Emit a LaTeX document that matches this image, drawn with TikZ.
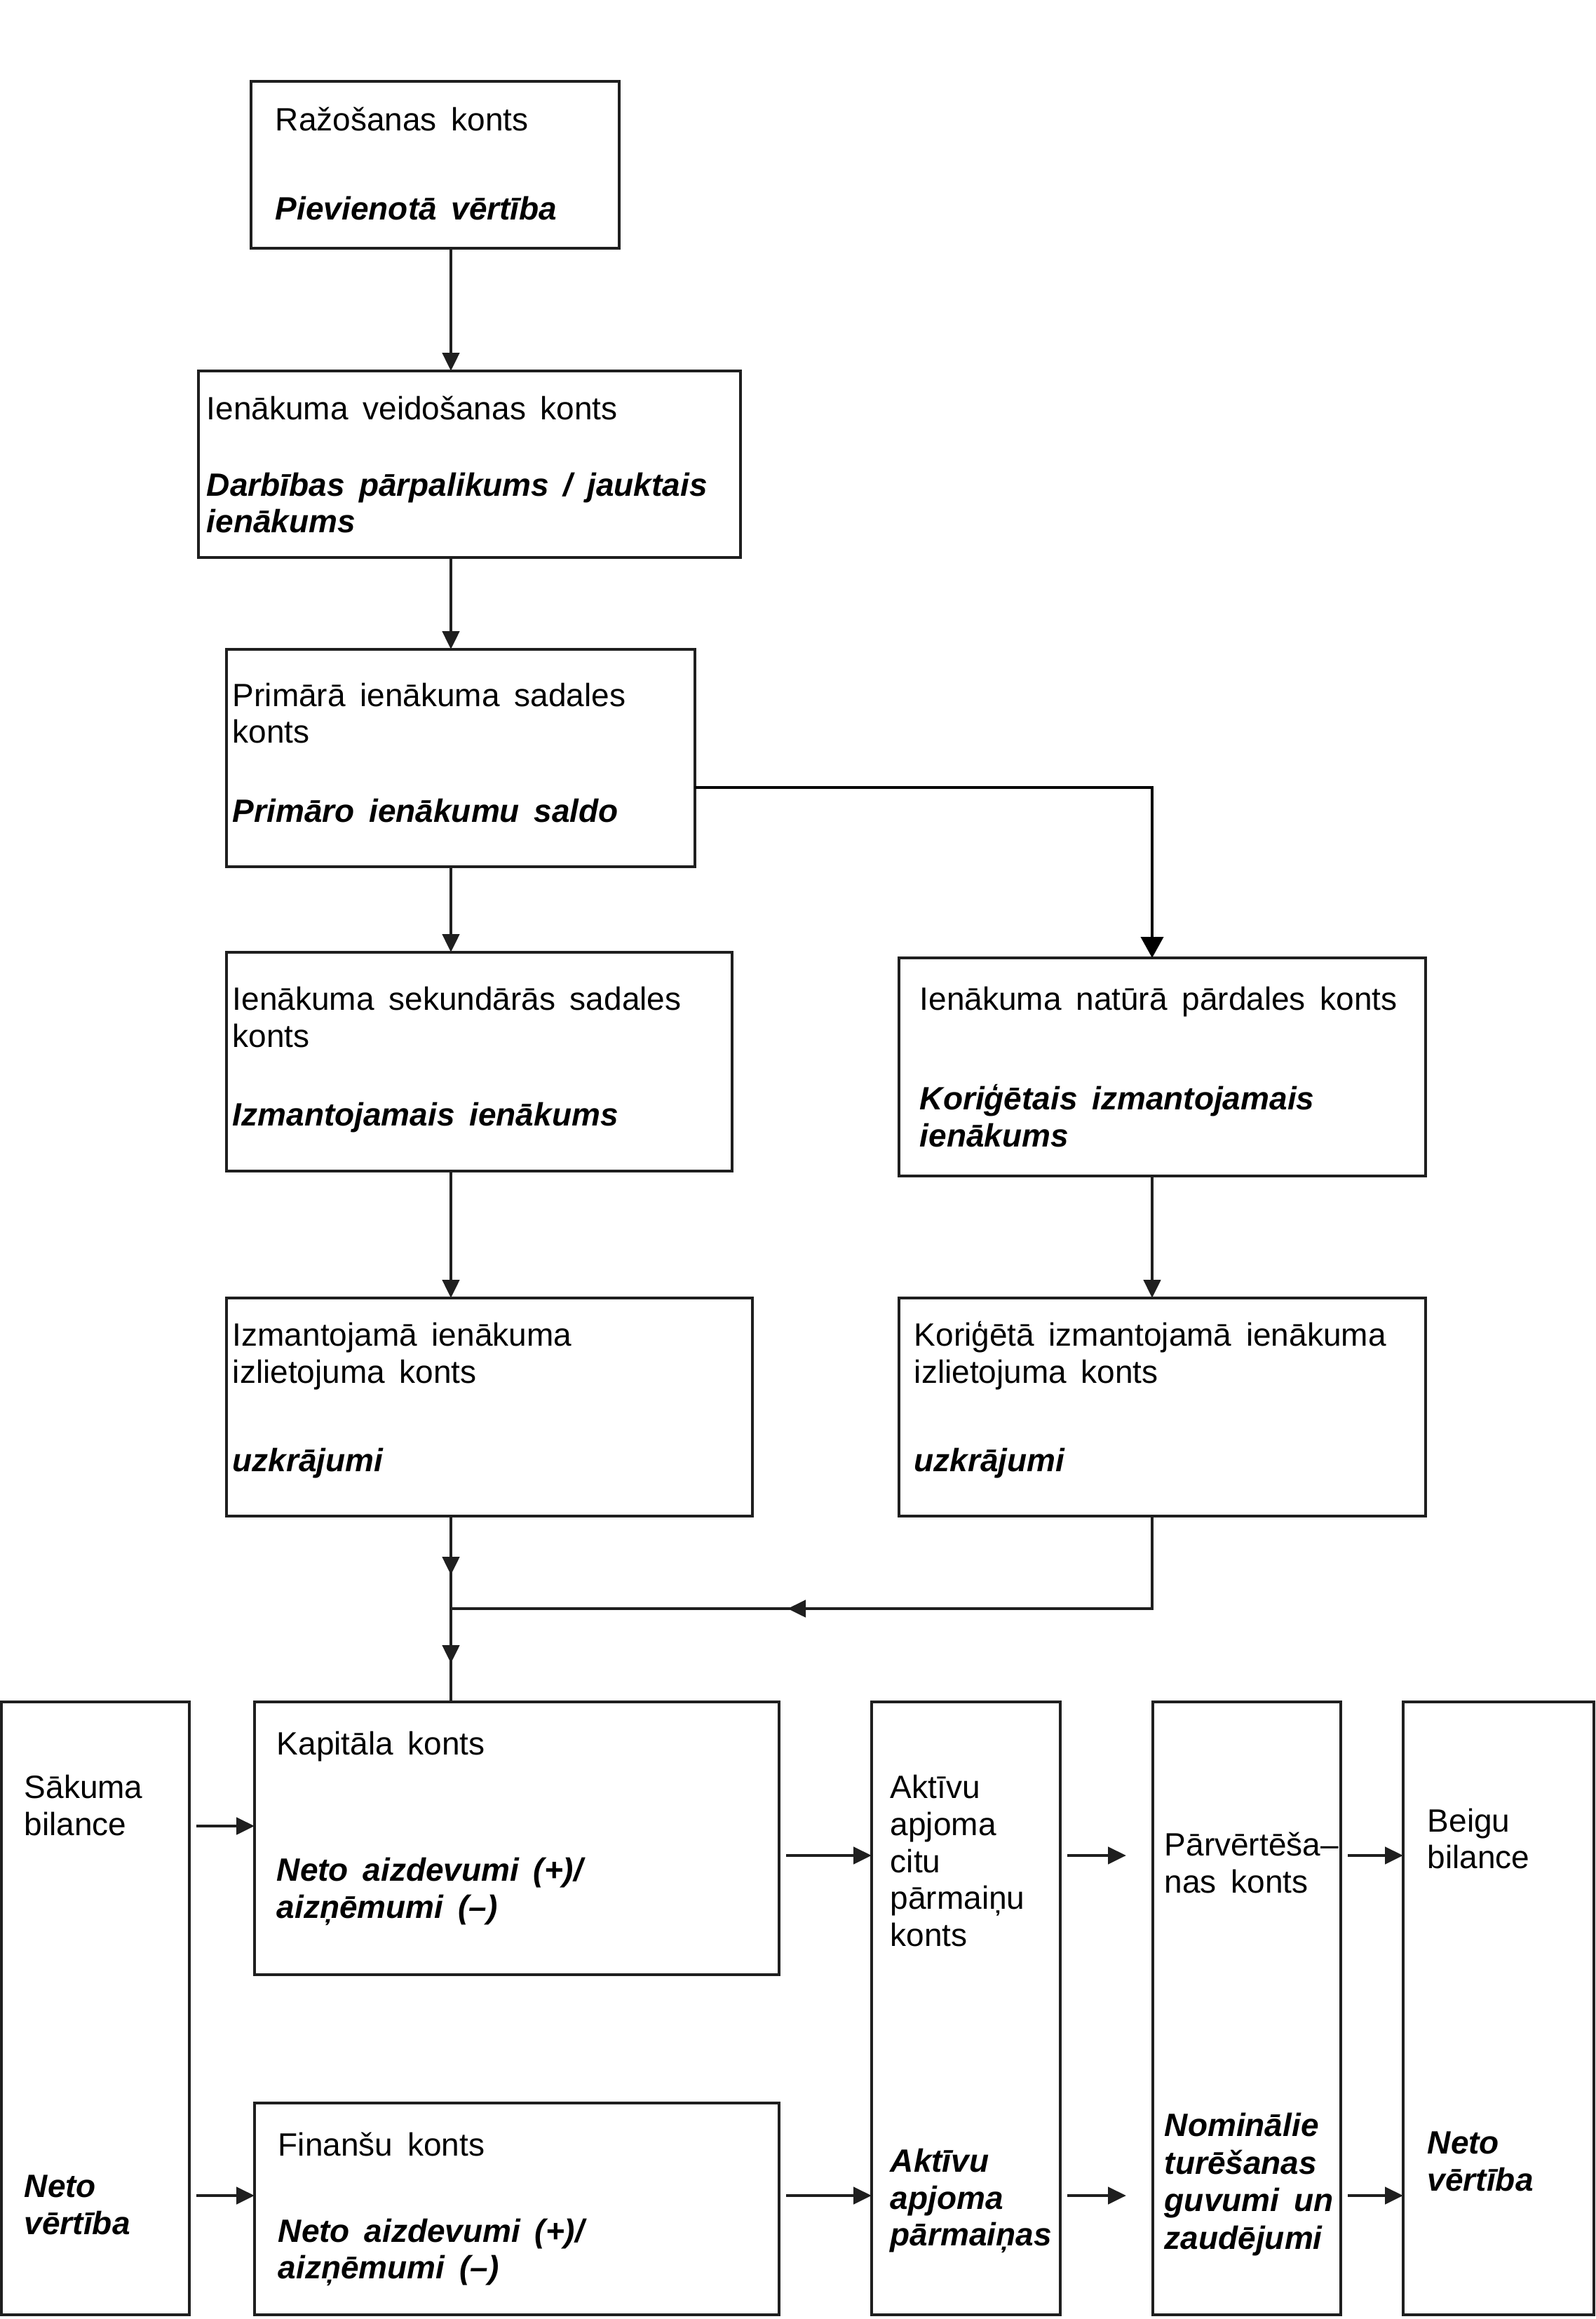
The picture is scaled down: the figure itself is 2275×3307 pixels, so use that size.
\documentclass[tikz,border=0pt]{standalone}
\usepackage{fontspec}
\setmainfont{Liberation Sans}
\usetikzlibrary{arrows.meta,fit,decorations.markings}
\begin{document}
\begin{tikzpicture}[x=0.25pt,y=-0.25pt,
  acct/.style={draw=black!88, line width=1.2pt, inner sep=0pt, outer sep=0pt, fit={#1}},
  tx/.style={anchor=base west, inner sep=0pt, font=\fontsize{11.5}{13.25}\selectfont,
    execute at begin node={\spaceskip=0.45em\relax}},
  bx/.style={tx, font=\fontsize{11.5}{13.25}\selectfont\bfseries\itshape},
  tipa/.tip={Triangle[length=6.5pt,width=6pt]},
  conn/.style={draw=black!88, line width=1.2pt, -tipa},
  sconn/.style={draw=black, line width=1pt, -{Triangle[length=7.5pt,width=8pt]}},
  plain/.style={draw=black!88, line width=1.2pt},
]
\useasboundingbox (0,0) rectangle (2275,3307);

% ---------- boxes ----------
\node[acct={(358,116) (883,354)}] (b1) {};
\node[acct={(283,529) (1056,795)}] (b2) {};
\node[acct={(323,926) (991,1236)}] (b3) {};
\node[acct={(323,1358) (1044,1670)}] (b4) {};
\node[acct={(1282,1366) (2033,1677)}] (b5) {};
\node[acct={(323,1851) (1073,2162)}] (b6) {};
\node[acct={(1282,1851) (2033,2162)}] (b7) {};

\node[acct={(2,2427) (270,3301)}] (sak) {};
\node[acct={(363,2427) (1111,2816)}] (kap) {};
\node[acct={(363,2999) (1111,3301)}] (fin) {};
\node[acct={(1243,2427) (1512,3301)}] (akt) {};
\node[acct={(1644,2427) (1912,3301)}] (parv) {};
\node[acct={(2001,2427) (2273,3301)}] (beig) {};

% ---------- texts ----------
\node[tx] (t1a) at (392,187) {Ražošanas konts};
\node[bx] (t1b) at (392,313) {Pievienotā vērtība};

\node[tx] (t2a) at (294,598) {Ienākuma veidošanas konts};
\node[bx] (t2b) at (294,707) {Darbības pārpalikums / jauktais};
\node[bx] (t2c) at (294,759) {ienākums};

\node[tx] (t3a) at (331,1007) {Primārā ienākuma sadales};
\node[tx] (t3b) at (331,1059) {konts};
\node[bx] (t3c) at (331,1172) {Primāro ienākumu saldo};

\node[tx] (t4a) at (331,1440) {Ienākuma sekundārās sadales};
\node[tx] (t4b) at (331,1493) {konts};
\node[bx] (t4c) at (331,1605) {Izmantojamais ienākums};

\node[tx] (t5a) at (1311,1440) {Ienākuma natūrā pārdales konts};
\node[bx] (t5b) at (1311,1582) {Koriģētais izmantojamais};
\node[bx] (t5c) at (1311,1635) {ienākums};

\node[tx] (t6a) at (331,1919) {Izmantojamā ienākuma};
\node[tx] (t6b) at (331,1972) {izlietojuma konts};
\node[bx] (t6c) at (331,2098) {uzkrājumi};

\node[tx] (t7a) at (1303,1919) {Koriģētā izmantojamā ienākuma};
\node[tx] (t7b) at (1303,1972) {izlietojuma konts};
\node[bx] (t7c) at (1303,2098) {uzkrājumi};

\node[tx] (t8a) at (34,2564) {Sākuma};
\node[tx] (t8b) at (34,2617) {bilance};
\node[bx] (t8c) at (34,3133) {Neto};
\node[bx] (t8d) at (34,3186) {vērtība};

\node[tx] (t9a) at (394,2502) {Kapitāla konts};
\node[bx] (t9b) at (394,2682) {Neto aizdevumi (+)/};
\node[bx] (t9c) at (394,2735) {aizņēmumi (–)};

\node[tx] (t10a) at (396,3074) {Finanšu konts};
\node[bx] (t10b) at (396,3197) {Neto aizdevumi (+)/};
\node[bx] (t10c) at (396,3249) {aizņēmumi (–)};

\node[tx] (t11a) at (1269,2564) {Aktīvu};
\node[tx] (t11b) at (1269,2617) {apjoma};
\node[tx] (t11c) at (1269,2670) {citu};
\node[tx] (t11d) at (1269,2722) {pārmaiņu};
\node[tx] (t11e) at (1269,2775) {konts};
\node[bx] (t11f) at (1269,3097) {Aktīvu};
\node[bx] (t11g) at (1269,3150) {apjoma};
\node[bx] (t11h) at (1269,3202) {pārmaiņas};

\node[tx] (t12a) at (1660,2646) {Pārvērtēša–};
\node[tx] (t12b) at (1660,2699) {nas konts};
\node[bx] (t12c) at (1660,3046) {Nominālie};
\node[bx] (t12d) at (1660,3100) {turēšanas};
\node[bx] (t12e) at (1660,3153) {guvumi un};
\node[bx] (t12f) at (1660,3207) {zaudējumi};

\node[tx] (t13a) at (2035,2612) {Beigu};
\node[tx] (t13b) at (2035,2664) {bilance};
\node[bx] (t13c) at (2035,3071) {Neto};
\node[bx] (t13d) at (2035,3124) {vērtība};

% ---------- helper coordinates ----------
\coordinate (sp) at (643,0);
\coordinate (sp2) at (1643,0);
\coordinate (y3) at (0,1123);
\coordinate (jn) at (643,2294);
\coordinate (ya) at (0,2604);
\coordinate (yb) at (0,2646);
\coordinate (yc) at (0,3131);

% ---------- connectors ----------
\draw[conn] (b1.south -| sp) -- (b2.north -| sp);
\draw[conn] (b2.south -| sp) -- (b3.north -| sp);
\draw[conn] (b3.south -| sp) -- (b4.north -| sp);
\draw[sconn] (b3.east |- y3) -| (b5.north -| sp2);
\draw[conn] (b4.south -| sp) -- (b6.north -| sp);
\draw[conn] (b5.south -| sp2) -- (b7.north -| sp2);

\draw[plain, postaction={decorate}, decoration={markings,
   mark=at position 21pt with {\arrow{tipa}},
   mark=at position 52.5pt with {\arrow{tipa}}}]
  (b6.south -| sp) -- (kap.north -| sp);
\draw[plain, postaction={decorate}, decoration={markings,
   mark=at position 163pt with {\arrow{tipa}}}]
  (b7.south -| sp2) |- (jn);

\draw[conn, shorten <=2.5pt] (sak.east |- ya) -- (kap.west |- ya);
\draw[conn, shorten <=2.5pt] (sak.east |- yc) -- (fin.west |- yc);
\draw[conn, shorten <=2.5pt] (kap.east |- yb) -- (akt.west |- yb);
\draw[conn, shorten <=2.5pt] (fin.east |- yc) -- (akt.west |- yc);
\draw[conn, shorten <=2.5pt, shorten >=9.5pt] (akt.east |- yb) -- (parv.west |- yb);
\draw[conn, shorten <=2.5pt, shorten >=9.5pt] (akt.east |- yc) -- (parv.west |- yc);
\draw[conn, shorten <=2.5pt] (parv.east |- yb) -- (beig.west |- yb);
\draw[conn, shorten <=2.5pt] (parv.east |- yc) -- (beig.west |- yc);
\end{tikzpicture}
\end{document}
